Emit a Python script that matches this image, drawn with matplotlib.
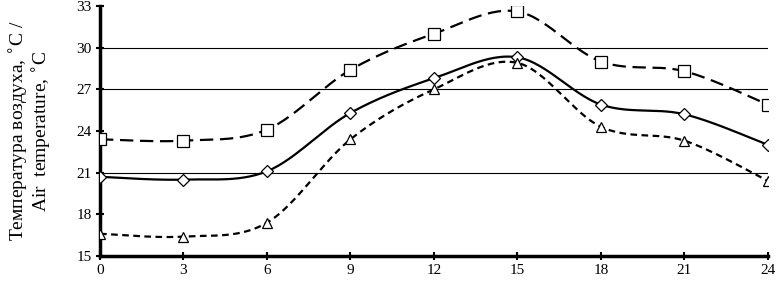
import matplotlib
matplotlib.use("Agg")
import matplotlib.pyplot as plt
import numpy as np

hours = [0, 3, 6, 9, 12, 15, 18, 21, 24]
t_max = [23.4, 23.3, 24.1, 28.4, 31.0, 32.6, 29.0, 28.3, 25.9]
t_mean = [20.7, 20.5, 21.1, 25.3, 27.8, 29.3, 25.9, 25.2, 23.0]
t_min = [16.6, 16.4, 17.4, 23.4, 27.0, 28.9, 24.3, 23.3, 20.4]
yticks = [15, 18, 21, 24, 27, 30, 33]
grid_levels = [21, 27, 30]


def smooth(x, y, n=30):
    # bezier smoothing similar to a spreadsheet "smoothed line"
    x = np.asarray(x, float)
    y = np.asarray(y, float)
    xs, ys = [], []
    for i in range(len(x) - 1):
        p0 = (x[i - 1], y[i - 1]) if i > 0 else (x[i], y[i])
        p1 = (x[i], y[i])
        p2 = (x[i + 1], y[i + 1])
        p3 = (x[i + 2], y[i + 2]) if i + 2 < len(x) else (x[i + 1], y[i + 1])
        c1 = (p1[0] + (p2[0] - p0[0]) / 6, p1[1] + (p2[1] - p0[1]) / 6)
        c2 = (p2[0] - (p3[0] - p1[0]) / 6, p2[1] - (p3[1] - p1[1]) / 6)
        t = np.linspace(0, 1, n)
        bx = (1-t)**3*p1[0] + 3*(1-t)**2*t*c1[0] + 3*(1-t)*t**2*c2[0] + t**3*p2[0]
        by = (1-t)**3*p1[1] + 3*(1-t)**2*t*c1[1] + 3*(1-t)*t**2*c2[1] + t**3*p2[1]
        xs.extend(bx)
        ys.extend(by)
    return np.array(xs), np.array(ys)


plt.rcParams['font.family'] = ['Liberation Serif', 'DejaVu Serif']

fig = plt.figure(figsize=(7.77, 2.83), dpi=100)
ax = fig.add_axes([0.1287, 0.0954, 0.8597, 0.8836])

for lvl in grid_levels:
    ax.axhline(lvl, color='black', lw=0.8, zorder=1)

series = [
    (t_max, 's', (0, (6, 3)), 8.5),
    (t_mean, 'D', '-', 6),
    (t_min, '^', (0, (3, 2)), 7.5),
]
for vals, m, ls, ms in series:
    sx, sy = smooth(hours, vals)
    ax.plot(sx, sy, color='black', lw=1.6, linestyle=ls, zorder=2)
    ax.plot(hours, vals, linestyle='none', marker=m, markersize=ms,
            markerfacecolor='white', markeredgecolor='black',
            markeredgewidth=0.9, zorder=3)

ax.set_xlim(0, 24)
ax.set_ylim(15, 33)
ax.set_xticks(hours)
ax.set_yticks(yticks)
ax.tick_params(axis='both', direction='inout', length=6, width=1.5,
               labelsize=11, pad=3)
for s in ['top', 'right']:
    ax.spines[s].set_visible(False)
ax.spines['left'].set_linewidth(2.5)
ax.spines['bottom'].set_linewidth(2.5)
ax.set_ylabel('Температура воздуха, $^{\\circ}$C /\nAir  temperature, $^{\\circ}$C',
              fontsize=14, labelpad=16, linespacing=1.0)

fig.savefig('out.png', dpi=100)
